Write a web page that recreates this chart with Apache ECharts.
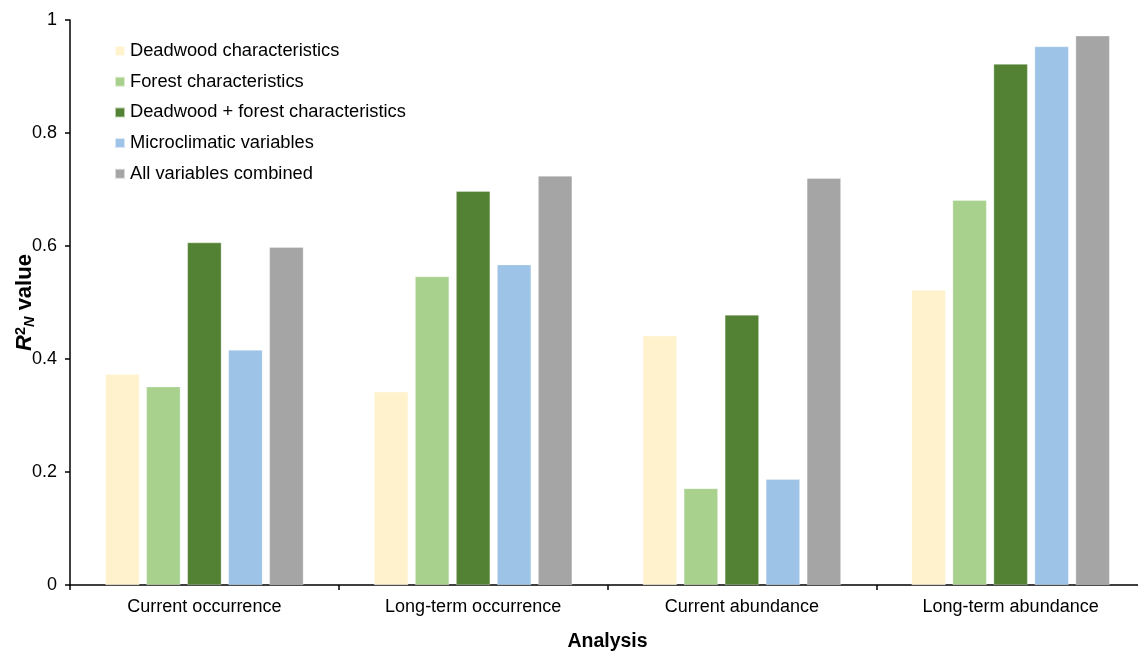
<!DOCTYPE html>
<html>
<head>
<meta charset="utf-8">
<script src="https://cdn.jsdelivr.net/npm/echarts@6/dist/echarts.min.js"></script>
<style>
html,body{margin:0;padding:0;background:#fff;}
#chart{width:1138px;height:651px;}
</style>
</head>
<body>
<div id="chart"></div>
<script>
var categories = ['Current occurrence', 'Long-term occurrence', 'Current abundance', 'Long-term abundance'];
var seriesNames = ['Deadwood characteristics', 'Forest characteristics', 'Deadwood + forest characteristics', 'Microclimatic variables', 'All variables combined'];
var deadwood = [0.373, 0.342, 0.441, 0.522];
var forest = [0.351, 0.546, 0.171, 0.681];
var deadwoodForest = [0.606, 0.697, 0.478, 0.922];
var microclimate = [0.416, 0.567, 0.187, 0.953];
var allCombined = [0.598, 0.724, 0.720, 0.972];
var yTicks = [0, 0.2, 0.4, 0.6, 0.8, 1];
var colors = ['#FFF2CC', '#A9D18E', '#548235', '#9DC3E6', '#A5A5A5'];

var seriesData = [deadwood, forest, deadwoodForest, microclimate, allCombined];
var FONT = 'Liberation Sans, Arial, sans-serif';

var chart = echarts.init(document.getElementById('chart'));
chart.setOption({
  animation: false,
  backgroundColor: '#fff',
  textStyle: { fontFamily: FONT },
  grid: { left: 70, top: 20, width: 1075, height: 565, containLabel: false, outerBoundsMode: 'none' },
  legend: {
    orient: 'vertical',
    left: 109,
    top: 37,
    icon: 'rect',
    itemWidth: 10,
    itemHeight: 10,
    itemGap: 12.7,
    selectedMode: false,
    textStyle: { fontFamily: FONT, fontSize: 18.3, color: '#000', lineHeight: 18 },
    data: seriesNames
  },
  xAxis: {
    type: 'category',
    data: categories,
    name: 'Analysis',
    nameLocation: 'middle',
    nameGap: 47,
    nameMoveOverlap: false,
    nameTextStyle: { fontFamily: FONT, fontSize: 19.5, fontWeight: 'bold', color: '#000' },
    axisLine: { lineStyle: { color: '#000', width: 1.5 } },
    axisTick: { show: true, inside: false, length: 5, alignWithLabel: false, lineStyle: { color: '#000', width: 1.5 } },
    axisLabel: { fontFamily: FONT, fontSize: 18, color: '#000', margin: 13 },
    splitLine: { show: false }
  },
  yAxis: {
    type: 'value',
    min: yTicks[0],
    max: yTicks[yTicks.length - 1],
    interval: 0.2,
    name: '{i|R}{sup|2}{sub|N}{b| value}',
    nameLocation: 'middle',
    nameRotate: 90,
    nameGap: 33,
    nameMoveOverlap: false,
    nameTextStyle: {
      color: '#000',
      rich: {
        i: { fontFamily: FONT, fontSize: 22, fontWeight: 'bold', fontStyle: 'italic', color: '#000', lineHeight: 24, verticalAlign: 'middle' },
        sup: { fontFamily: FONT, fontSize: 14.5, fontWeight: 'bold', color: '#000', lineHeight: 14, verticalAlign: 'top' },
        sub: { fontFamily: FONT, fontSize: 14.5, fontWeight: 'bold', fontStyle: 'italic', color: '#000', lineHeight: 14, verticalAlign: 'bottom' },
        b: { fontFamily: FONT, fontSize: 22, fontWeight: 'bold', color: '#000', lineHeight: 24, verticalAlign: 'middle' }
      }
    },
    axisLine: { show: true, lineStyle: { color: '#000', width: 1.5 } },
    axisTick: { show: true, inside: false, length: 5, lineStyle: { color: '#000', width: 1.5 } },
    axisLabel: { fontFamily: FONT, fontSize: 18, color: '#000', margin: 13 },
    splitLine: { show: false }
  },
  series: seriesNames.map(function (name, i) {
    return {
      name: name,
      type: 'bar',
      data: seriesData[i],
      barWidth: 34,
      barGap: '20.6%',
      itemStyle: { color: colors[i], borderColor: 'rgba(255,255,255,0.6)', borderWidth: 0.5 }
    };
  })
});
</script>
</body>
</html>
